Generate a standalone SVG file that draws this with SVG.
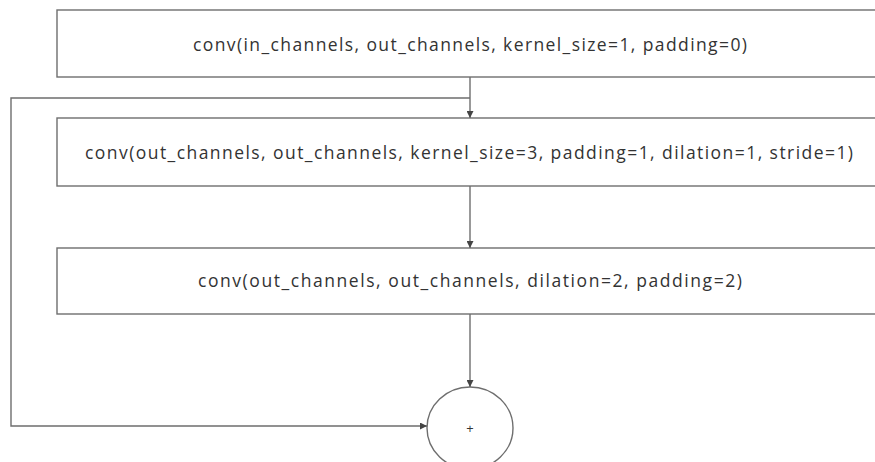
<svg xmlns="http://www.w3.org/2000/svg" width="875" height="462" viewBox="0 0 875 462">
<defs>
<style>
.box{fill:#fff;stroke:#6e6e6e;stroke-width:1.4}
.lbl{font-family:"Open Sans","Noto Sans",sans-serif;font-size:17.5px;fill:#333;text-anchor:middle;dominant-baseline:central}
.edge{fill:none;stroke:#6e6e6e;stroke-width:1.4}
</style>
<marker id="arr" viewBox="0 0 10 10" refX="10" refY="5" markerWidth="7" markerHeight="7" orient="auto" markerUnits="userSpaceOnUse">
<path d="M0,0 L10,5 L0,10 z" fill="#444"/>
</marker>
</defs>
<rect width="875" height="462" fill="#fff"/>
<g id="conv1"><rect class="box" x="57" y="10" width="826" height="67"/><text class="lbl" x="470" y="44" textLength="554" lengthAdjust="spacing">conv(in_channels, out_channels, kernel_size=1, padding=0)</text></g>
<g id="conv2"><rect class="box" x="57" y="118" width="826" height="68"/><text class="lbl" x="469" y="152" textLength="768" lengthAdjust="spacing">conv(out_channels, out_channels, kernel_size=3, padding=1, dilation=1, stride=1)</text></g>
<g id="conv3"><rect class="box" x="57" y="248" width="826" height="66"/><text class="lbl" x="470" y="280" textLength="544" lengthAdjust="spacing">conv(out_channels, out_channels, dilation=2, padding=2)</text></g>
<g id="add"><ellipse class="box" cx="470" cy="428" rx="43" ry="41"/><text class="lbl" x="470" y="428" style="font-size:13px">+</text></g>
<g id="connectors">
<path class="edge" d="M470,77 V118" marker-end="url(#arr)"/>
<path class="edge" d="M470,98 H11 V426 H427" marker-end="url(#arr)"/>
<path class="edge" d="M470,186 V248" marker-end="url(#arr)"/>
<path class="edge" d="M470,314 V387" marker-end="url(#arr)"/>
</g>
</svg>
